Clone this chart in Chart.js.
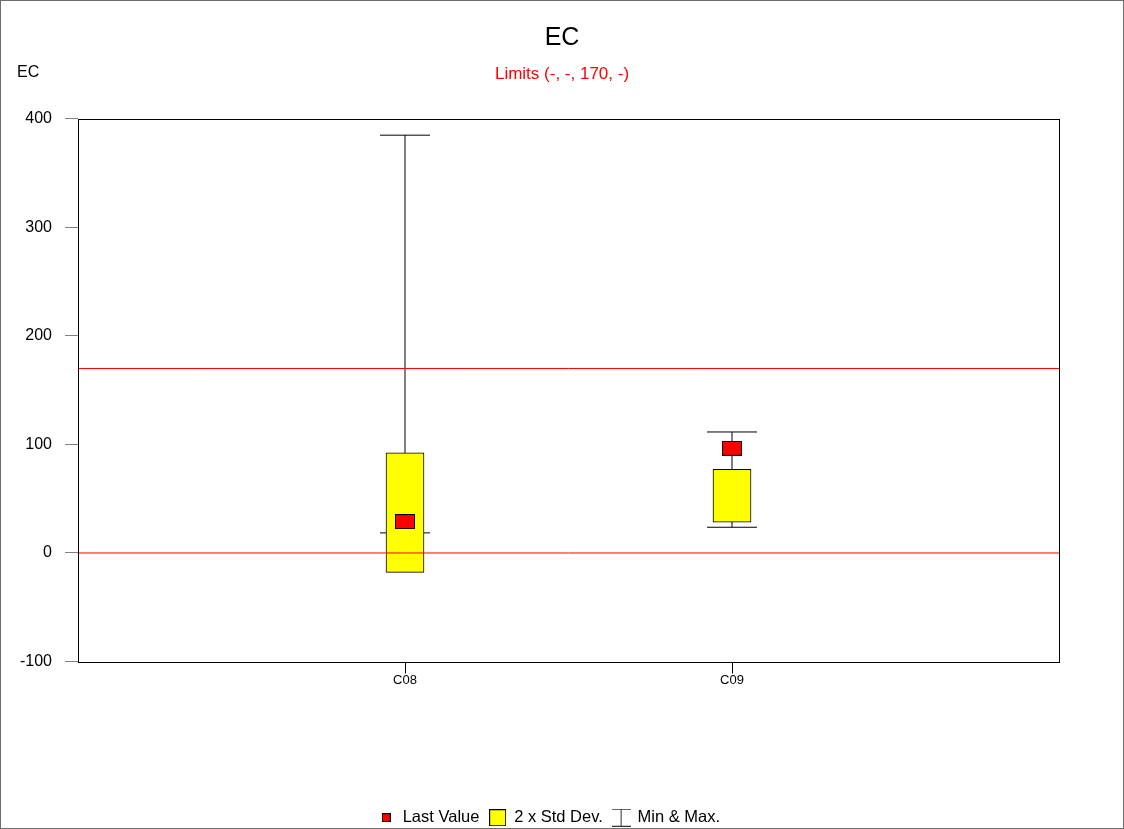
<!DOCTYPE html>
<html>
<head>
  <meta charset="utf-8">
  <title>EC</title>
  <script src="https://cdn.jsdelivr.net/npm/chart.js@4.4.1/dist/chart.umd.min.js"></script>
  <style>
    body { margin: 0; background: #fff; }
  </style>
</head>
<body>
  <canvas id="chart" width="1124" height="829"></canvas>
  <script>
    // values
    var categories = ['C08', 'C09'];
    var minValues = [18.5, 23.7];
    var maxValues = [385, 111.5];
    var stdLow = [-17.8, 28.3];
    var stdHigh = [92.2, 77.1];
    var lastValues = [28.9, 96.4];
    var limitLines = [170, 0];
    var yTicks = [-100, 0, 100, 200, 300, 400];

    Chart.defaults.font.family = '"Liberation Sans", Arial, sans-serif';
    Chart.defaults.color = '#000';

    function icon(w, h, draw) {
        var c = document.createElement('canvas');
        c.width = w;
        c.height = h;
        draw(c.getContext('2d'), w, h);
        return c;
    }

    function boxIcon(w, h, fill) {
        return icon(w, h, function (g) {
            g.fillStyle = fill;
            g.fillRect(0, 0, w, h);
            g.strokeStyle = '#000';
            g.lineWidth = 1;
            g.strokeRect(0.5, 0.5, w - 1, h - 1);
        });
    }

    var lastMarker = boxIcon(20, 15, '#ff0000');
    var legendLast = boxIcon(9, 9, '#ff0000');
    var legendStd = boxIcon(17, 17, '#ffff00');
    var legendMinMax = icon(19, 18, function (g, w, h) {
        g.strokeStyle = '#333';
        g.lineWidth = 1;
        g.beginPath();
        g.moveTo(0, 0.5); g.lineTo(w, 0.5);
        g.moveTo(0, h - 0.5); g.lineTo(w, h - 0.5);
        g.moveTo(9.5, 0); g.lineTo(9.5, h);
        g.stroke();
    });

    var whiskers = [];
    categories.forEach(function (c, i) {
        if (i > 0) whiskers.push({x: i + 0.5, y: null});
        whiskers.push({x: i + 1, y: minValues[i]});
        whiskers.push({x: i + 1, y: maxValues[i]});
    });

    var datasets = limitLines.map(function (v) {
        return {
            type: 'scatter',
            showLine: true,
            data: [{x: 0, y: v}, {x: categories.length + 1, y: v}],
            borderColor: '#ff0000',
            borderWidth: 1,
            pointRadius: 0,
            yAxisID: 'y',
            order: 0
        };
    });

    datasets.push({
        type: 'scatter',
        data: categories.map(function (c, i) { return {x: i + 1, y: lastValues[i]}; }),
        pointStyle: lastMarker,
        pointRadius: 10,
        yAxisID: 'y',
        order: 1
    });

    datasets.push({
        type: 'bar',
        data: categories.map(function (c, i) { return {x: i + 1, y: [stdLow[i], stdHigh[i]]}; }),
        backgroundColor: '#ffff00',
        borderColor: '#000',
        borderWidth: 1,
        borderSkipped: false,
        barThickness: 38,
        yAxisID: 'y',
        order: 2
    });

    datasets.push({
        type: 'scatter',
        showLine: true,
        data: whiskers,
        borderColor: '#000',
        borderWidth: 1,
        pointStyle: 'line',
        pointRadius: 25,
        pointBorderColor: '#000',
        pointBorderWidth: 1,
        yAxisID: 'y',
        order: 3
    });

    var frame = {
        id: 'frame',
        afterLayout: function (chart) {
            // legend sits a little left of centre in the original
            chart.legend.right -= 26;
            chart.legend.top += 2;
            chart.legend.bottom += 2;
        },
        beforeDraw: function (chart) {
            var g = chart.ctx;
            g.save();
            g.fillStyle = '#fff';
            g.fillRect(0, 0, chart.width, chart.height);
            g.restore();
        },
        afterDraw: function (chart) {
            var g = chart.ctx;
            var a = chart.chartArea;
            g.save();
            g.strokeStyle = '#000';
            g.lineWidth = 1;
            var l = Math.round(a.left), t = Math.round(a.top);
            g.strokeRect(l + 0.5, t + 0.5, Math.round(a.right) - l, Math.round(a.bottom) - t);
            g.strokeStyle = '#6e6e6e';
            g.strokeRect(0.5, 0.5, chart.width - 1, chart.height - 1);
            g.fillStyle = '#000';
            g.font = '16px "Liberation Sans", Arial, sans-serif';
            g.textBaseline = 'middle';
            g.textAlign = 'left';
            g.fillText('EC', 17, 73);
            g.restore();
        }
    };

    var chart = new Chart(document.getElementById('chart'), {
        type: 'bar',
        data: {datasets: datasets},
        plugins: [frame],
        options: {
            responsive: false,
            animation: false,
            events: [],
            layout: {padding: {left: 0, right: 0, top: 0, bottom: -5}},
            plugins: {
                title: {
                    display: true,
                    text: 'EC',
                    font: {size: 25, weight: 'normal'},
                    color: '#000',
                    padding: {top: 23, bottom: 0}
                },
                subtitle: {
                    display: true,
                    text: 'Limits (-, -, 170, -)',
                    font: {size: 17},
                    color: '#ff0000',
                    padding: {top: 11, bottom: 34.5}
                },
                legend: {
                    position: 'bottom',
                    labels: {
                        usePointStyle: true,
                        padding: 10,
                        font: {size: 16.5},
                        color: '#000',
                        generateLabels: function () {
                            return [
                                {text: 'Last Value', pointStyle: legendLast, lineWidth: 0, hidden: false},
                                {text: '2 x Std Dev.', pointStyle: legendStd, lineWidth: 0, hidden: false},
                                {text: 'Min & Max.', pointStyle: legendMinMax, lineWidth: 0, hidden: false}
                            ];
                        }
                    }
                },
                tooltip: {enabled: false}
            },
            scales: {
                x: {
                    type: 'linear',
                    min: 0,
                    max: categories.length + 1,
                    offset: false,
                    afterBuildTicks: function (s) {
                        s.ticks = categories.map(function (c, i) { return {value: i + 1}; });
                    },
                    afterFit: function (s) { s.height = 136; },
                    ticks: {
                        callback: function (v) { return categories[v - 1]; },
                        font: {size: 13},
                        padding: -1,
                        maxRotation: 0,
                        autoSkip: false
                    },
                    grid: {offset: false, drawOnChartArea: false, tickLength: 12, tickColor: '#000'},
                    border: {display: false}
                },
                y: {
                    min: -100,
                    max: 400,
                    afterBuildTicks: function (s) {
                        s.ticks = yTicks.map(function (v) { return {value: v}; });
                    },
                    afterFit: function (s) { s.width = 78; },
                    ticks: {font: {size: 16}, padding: 13},
                    grid: {drawOnChartArea: false, tickLength: 13, tickColor: '#808080'},
                    border: {display: false}
                },
                y2: {
                    position: 'right',
                    display: true,
                    grid: {display: false},
                    ticks: {display: false},
                    border: {display: false},
                    afterFit: function (s) { s.width = 65; }
                }
            }
        }
    });
  </script>
</body>
</html>
